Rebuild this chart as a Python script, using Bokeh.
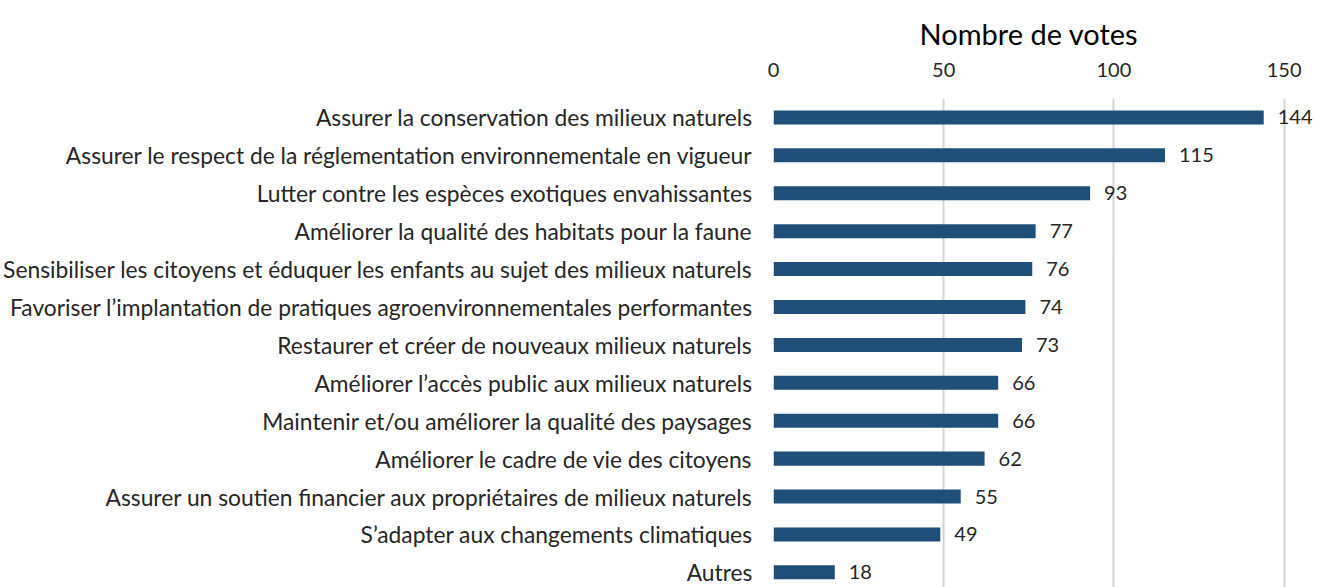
from bokeh.plotting import figure
from bokeh.models import ColumnDataSource, Range1d, FixedTicker, LinearAxis, LabelSet
from bokeh.core.properties import value
from bokeh.embed import file_html
from bokeh.resources import INLINE

categories = [
    "Assurer la conservation des milieux naturels",
    "Assurer le respect de la réglementation environnementale en vigueur",
    "Lutter contre les espèces exotiques envahissantes",
    "Améliorer la qualité des habitats pour la faune",
    "Sensibiliser les citoyens et éduquer les enfants au sujet des milieux naturels",
    "Favoriser l’implantation de pratiques agroenvironnementales performantes",
    "Restaurer et créer de nouveaux milieux naturels",
    "Améliorer l’accès public aux milieux naturels",
    "Maintenir et/ou améliorer la qualité des paysages",
    "Améliorer le cadre de vie des citoyens",
    "Assurer un soutien financier aux propriétaires de milieux naturels",
    "S’adapter aux changements climatiques",
    "Autres",
]
votes = [144, 115, 93, 77, 76, 74, 73, 66, 66, 62, 55, 49, 18]
x_ticks = [0, 50, 100, 150]
axis_title = "Nombre de votes"

FONT = "Lato"
TXT = "#262626"

pos = list(range(len(categories)))
src = ColumnDataSource(dict(y=pos, v=votes, lab=[str(v) for v in votes]))

p = figure(width=1317, height=587, output_backend="svg", toolbar_location=None,
           x_range=Range1d(0, 159.8), y_range=Range1d(12.4, -0.5),
           x_axis_location=None, y_axis_location=None,
           min_border_left=772, min_border_right=0, min_border_top=98, min_border_bottom=0,
           title=axis_title)
p.outline_line_color = None
p.title.align = "left"
p.title.offset = 146
p.title.text_font = FONT
p.title.text_font_size = "29px"
p.title.text_font_style = "normal"
p.title.text_color = "#000000"
p.title.standoff = 18

p.hbar(y="y", right="v", left=0, height=0.37, source=src, fill_color="#1F4E79", line_color=None)

labels = LabelSet(x="v", y="y", text="lab", source=src, x_offset=14, text_baseline="middle",
                  text_font=value(FONT), text_font_size=value("20px"), text_color=TXT)
p.add_layout(labels)

xa = LinearAxis(ticker=FixedTicker(ticks=x_ticks))
xa.axis_line_color = None
xa.major_tick_line_color = None
xa.minor_tick_line_color = None
xa.major_label_text_font = FONT
xa.major_label_text_font_size = "20px"
xa.major_label_text_color = TXT
xa.major_label_standoff = 16
p.add_layout(xa, "above")

ya = LinearAxis(ticker=FixedTicker(ticks=pos),
                major_label_overrides={i: c for i, c in zip(pos, categories)})
ya.axis_line_color = None
ya.major_tick_line_color = None
ya.minor_tick_line_color = None
ya.major_label_text_font = FONT
ya.major_label_text_font_size = "22.8px"
ya.major_label_text_color = TXT
ya.major_label_standoff = 15
p.add_layout(ya, "left")

p.xgrid.ticker = FixedTicker(ticks=x_ticks)
p.xgrid.grid_line_color = "#D4D4D4"
p.xgrid.grid_line_width = 2
p.ygrid.grid_line_color = None

open("out.html", "w").write(file_html(p, INLINE))
